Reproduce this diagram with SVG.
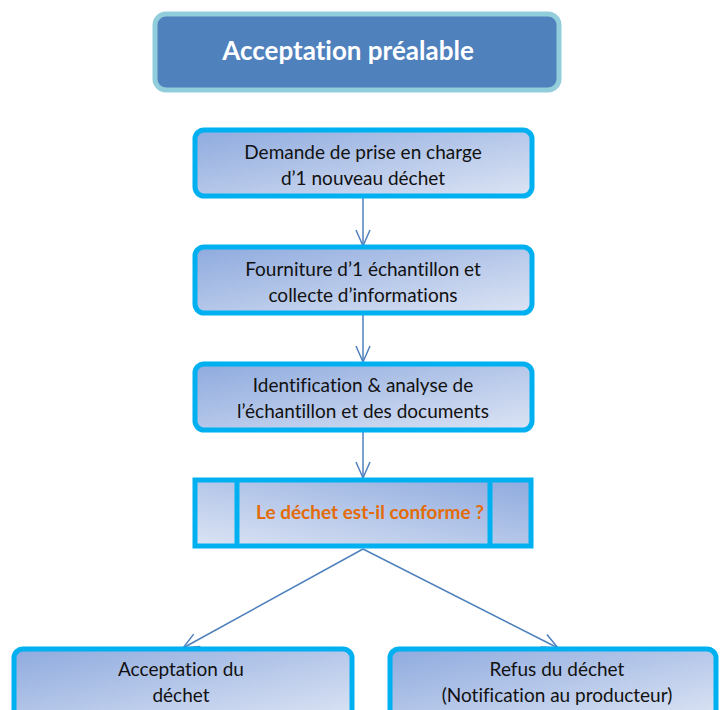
<svg xmlns="http://www.w3.org/2000/svg" width="722" height="710" viewBox="0 0 722 710">
<defs>
<linearGradient id="g1" x1="0" y1="0" x2="1" y2="1">
<stop offset="0" stop-color="#8EAADE"/>
<stop offset="1" stop-color="#DCE4F4"/>
</linearGradient>
<linearGradient id="g2" x1="0" y1="1" x2="1" y2="0">
<stop offset="0" stop-color="#DCE4F4"/>
<stop offset="1" stop-color="#8EAADE"/>
</linearGradient>
<marker id="ah" viewBox="0 0 20 20" refX="18" refY="10" markerWidth="20" markerHeight="20" markerUnits="userSpaceOnUse" orient="auto">
<path d="M2,3 L18,10 L2,17" fill="none" stroke="#4F81BD" stroke-width="1.5"/>
</marker>
<style>
text{font-variant-ligatures:none;font-family:Lato,"Open Sans","Liberation Sans",sans-serif}
.box{fill:url(#g1);stroke:#00B0F0;stroke-width:5}
.t{font-size:19px;fill:#111;text-anchor:middle}
.c{stroke:#4F81BD;stroke-width:1.5;fill:none;marker-end:url(#ah)}
</style>
</defs>
<rect width="722" height="710" fill="#fff"/>
<g id="title">
<rect x="155" y="14" width="404" height="76" rx="11" fill="#4F81BD" stroke="#92CDDC" stroke-width="5"/>
<text x="348" y="60" font-size="26" font-weight="bold" fill="#fff" text-anchor="middle">Acceptation préalable</text>
</g>
<g id="connectors">
<line class="c" x1="363" y1="198" x2="363" y2="246"/>
<line class="c" x1="363" y1="314" x2="363" y2="362"/>
<line class="c" x1="363" y1="431" x2="363" y2="478"/>
<line class="c" x1="363" y1="549" x2="183" y2="648"/>
<line class="c" x1="363" y1="549" x2="558" y2="648"/>
</g>
<g id="n1">
<rect class="box" x="195" y="130" width="337" height="66" rx="9"/>
<text class="t" x="363" y="159">Demande de prise en charge</text>
<text class="t" x="363" y="185">d’1 nouveau  déchet</text>
</g>
<g id="n2">
<rect class="box" x="195" y="247" width="337" height="66" rx="9"/>
<text class="t" x="363" y="276">Fourniture d’1 échantillon et</text>
<text class="t" x="363" y="302">collecte d’informations</text>
</g>
<g id="n3">
<rect class="box" x="195" y="364" width="337" height="66" rx="9"/>
<text class="t" x="363" y="392">Identification &amp; analyse de</text>
<text class="t" x="363" y="418">l’échantillon et des documents</text>
</g>
<g id="decision">
<rect x="195" y="480" width="336" height="66" fill="url(#g2)" stroke="#00B0F0" stroke-width="5"/>
<line x1="237" y1="480" x2="237" y2="546" stroke="#00B0F0" stroke-width="5"/>
<line x1="490" y1="480" x2="490" y2="546" stroke="#00B0F0" stroke-width="5"/>
<text x="370" y="519" font-size="19" font-weight="bold" fill="#E36C09" text-anchor="middle">Le déchet est-il conforme  ?</text>
</g>
<g id="n4">
<rect class="box" x="14" y="649" width="338" height="70" rx="9"/>
<text class="t" x="181" y="676">Acceptation du</text>
<text class="t" x="181" y="702">déchet</text>
</g>
<g id="n5">
<rect class="box" x="390" y="649" width="326" height="70" rx="9"/>
<text class="t" x="557" y="676">Refus du déchet</text>
<text class="t" x="557" y="702">(Notification au producteur)</text>
</g>
</svg>
